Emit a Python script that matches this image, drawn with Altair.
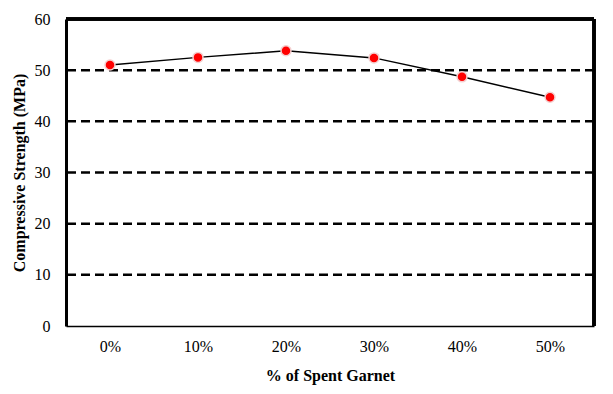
import altair as alt
import pandas as pd

categories = ["0%", "10%", "20%", "30%", "40%", "50%"]
strength = [51.0, 52.5, 53.8, 52.4, 48.7, 44.7]
y_ticks = [0, 10, 20, 30, 40, 50, 60]
grid_levels = [10, 20, 30, 40, 50]

df = pd.DataFrame({"garnet": categories, "strength": strength})
grid_df = pd.DataFrame({"level": grid_levels})

FONT = "Liberation Serif"

x_enc = alt.X("garnet:N", sort=categories,
              scale=alt.Scale(paddingInner=0, paddingOuter=0),
              axis=alt.Axis(title="% of Spent Garnet", labelAngle=0, ticks=False,
                            labelPadding=12, titlePadding=13,
                            domainColor="#000000", domainWidth=1.5))
y_enc = alt.Y("strength:Q", scale=alt.Scale(domain=[0, 60], nice=False),
              axis=alt.Axis(title="Compressive Strength (MPa)", values=y_ticks,
                            ticks=False, grid=False, labelPadding=16, titlePadding=7,
                            domainColor="#000000", domainWidth=3))

grid = alt.Chart(grid_df).mark_rule(color="#000000", strokeWidth=2.5, strokeDash=[9, 5]).encode(
    y=alt.Y("level:Q", scale=alt.Scale(domain=[0, 60], nice=False))
)

top_border = alt.Chart(grid_df).mark_rule(color="#000000", strokeWidth=3).encode(
    y=alt.value(0), x=alt.value(0), x2=alt.value(528)
)
right_border = alt.Chart(grid_df).mark_rule(color="#000000", strokeWidth=3).encode(
    x=alt.value(528), y=alt.value(0), y2=alt.value(307)
)

line = alt.Chart(df).mark_line(color="#000000", strokeWidth=1.5).encode(x=x_enc, y=y_enc)
points = alt.Chart(df).mark_point(filled=True, shape="circle", size=100, color="#ff0000",
                                  stroke="#f4d0d0", strokeWidth=1.5, opacity=1).encode(
    x=x_enc, y=y_enc
)

chart = alt.layer(grid, line, points, top_border, right_border).properties(
    width=528, height=307,
    background="#ffffff",
    autosize=alt.AutoSizeParams(type="none"),
    padding={"left": 58, "top": 11, "right": 10, "bottom": 60},
).configure_view(stroke=None).configure_axis(
    labelFont=FONT, titleFont=FONT, labelFontSize=16, titleFontSize=16,
    labelColor="#000000", titleColor="#000000", titleFontWeight="bold",
)

chart.save("out.html", embed_options={"renderer": "svg", "actions": False})
